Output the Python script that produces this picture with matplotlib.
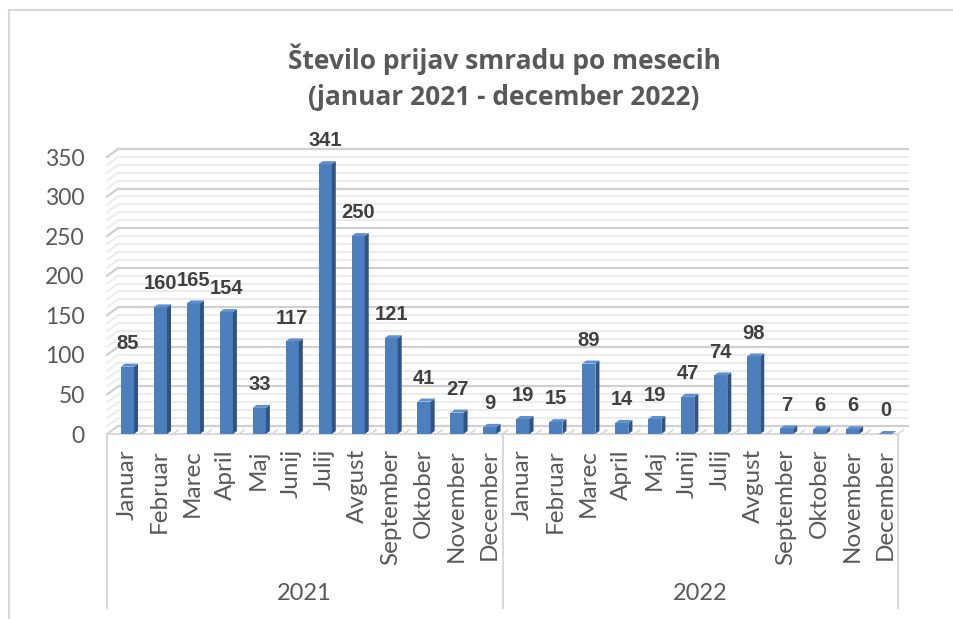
import matplotlib
matplotlib.use("Agg")
import matplotlib.pyplot as plt
from matplotlib.patches import Polygon
from matplotlib import font_manager

# data
months = ["Januar", "Februar", "Marec", "April", "Maj", "Junij", "Julij",
          "Avgust", "September", "Oktober", "November", "December"]
years = ["2021", "2022"]
values_2021 = [85, 160, 165, 154, 33, 117, 341, 250, 121, 41, 27, 9]
values_2022 = [19, 15, 89, 14, 19, 47, 74, 98, 7, 6, 6, 0]

values = values_2021 + values_2022
labels = months + months

W, H = 954, 619
fig = plt.figure(figsize=(W / 100, H / 100), dpi=100)

names = {f.name for f in font_manager.fontManager.ttflist}
title_font = "Open Sans" if "Open Sans" in names else "DejaVu Sans"
txt_font = "Lato" if "Lato" in names else title_font
num_font = "Liberation Sans Narrow" if "Liberation Sans Narrow" in names else "Liberation Sans"

grey = "#595959"

# chart area border (top + left visible)
fig.add_artist(plt.Line2D([9 / W, 1], [1 - 10 / H, 1 - 10 / H], color="#d9d9d9", lw=1.5))
fig.add_artist(plt.Line2D([9 / W, 9 / W], [0, 1 - 10 / H], color="#d9d9d9", lw=1.5))

# axes = front plane of the plot
left, right, y0, y350 = 107, 898, 434, 157
ax = fig.add_axes([left / W, 1 - y0 / H, (right - left) / W, (y0 - y350) / H])
n = len(values)
ax.set_xlim(-0.5, n - 0.5)
ax.set_ylim(0, 350)
ax.axis("off")

pxx = (right - left) / n          # px per category
pxy = (y0 - y350) / 350           # px per unit
ddx, ddy = 11 / pxx, 8 / pxy      # wall depth

# back wall and side wall gridlines
for v in range(0, 360, 10):
    major = v % 50 == 0
    c = "#d0d0d0" if major else "#ebebeb"
    lw = 1.6 if major else 1.3
    ax.plot([-0.5 + ddx, n - 0.5 + ddx], [v + ddy, v + ddy], color=c, lw=lw,
            clip_on=False, zorder=1, solid_capstyle="butt")
    ax.plot([-0.5, -0.5 + ddx], [v, v + ddy], color=c, lw=lw, clip_on=False, zorder=1)

# floor edge + category ticks
ax.plot([-0.5, n - 0.5], [0, 0], color="#d9d9d9", lw=1.5, clip_on=False, zorder=2)
for i in range(n + 1):
    ax.plot([i - 0.5, i - 0.5 + 0.5 * ddx], [0, 0.5 * ddy], color="#d9d9d9", lw=1.2,
            clip_on=False, zorder=2)

# bars (3D look)
shift, bw = 0.12, 0.40
sdx, sdy = 4 / pxx, 3 / pxy
for i, v in enumerate(values):
    x0 = i + shift - bw / 2
    x1 = i + shift + bw / 2
    if v > 0:
        ax.add_patch(Polygon([(x0, 0), (x1, 0), (x1, v), (x0, v)], closed=True,
                             facecolor="#4b7fbe", edgecolor="none", zorder=5, clip_on=False))
        ax.add_patch(Polygon([(x1, 0), (x1 + sdx, sdy), (x1 + sdx, v + sdy), (x1, v)], closed=True,
                             facecolor="#2f5382", edgecolor="none", zorder=5, clip_on=False))
    ax.add_patch(Polygon([(x0, v), (x1, v), (x1 + sdx, v + sdy), (x0 + sdx, v + sdy)], closed=True,
                         facecolor="#5f8fce", edgecolor="none", zorder=5, clip_on=False))
    ax.annotate(str(v), (i + shift, v), xytext=(0, 10), textcoords="offset points",
                ha="center", va="bottom", fontsize=14.5, fontweight="bold",
                family=num_font, color="#404040", zorder=6)

# y tick labels
for v in range(0, 351, 50):
    ax.annotate(str(v), (-0.5, v), xytext=(-16, -1.5), textcoords="offset points",
                ha="right", va="center", fontsize=16.5, family=txt_font, color=grey)

# category axis box
bottom = 608
for xb in [-0.5, 11.5, n - 0.5]:
    fig.add_artist(plt.Line2D([(left + (xb + 0.5) * pxx) / W] * 2, [1 - y0 / H, 1 - bottom / H],
                              color="#d9d9d9", lw=1.5))

for i, lab in enumerate(labels):
    xp = left + (i + 0.6) * pxx
    fig.text(xp / W, 1 - 449 / H, lab, rotation=90, ha="center", va="top",
             fontsize=17.5, family=txt_font, color=grey)

for k, yr in enumerate(years):
    xp = left + (k * 12 + 6) * pxx
    fig.text(xp / W, 1 - 593 / H, yr, ha="center", va="center",
             fontsize=17, family=txt_font, color=grey)

# title
fig.text(504 / W, 1 - 77 / H, "Število prijav smradu po mesecih\n(januar 2021 - december 2022)",
         ha="center", va="center", fontsize=19, fontweight="bold", family=title_font,
         color=grey, linespacing=1.45)

fig.savefig("out.png", dpi=100)
